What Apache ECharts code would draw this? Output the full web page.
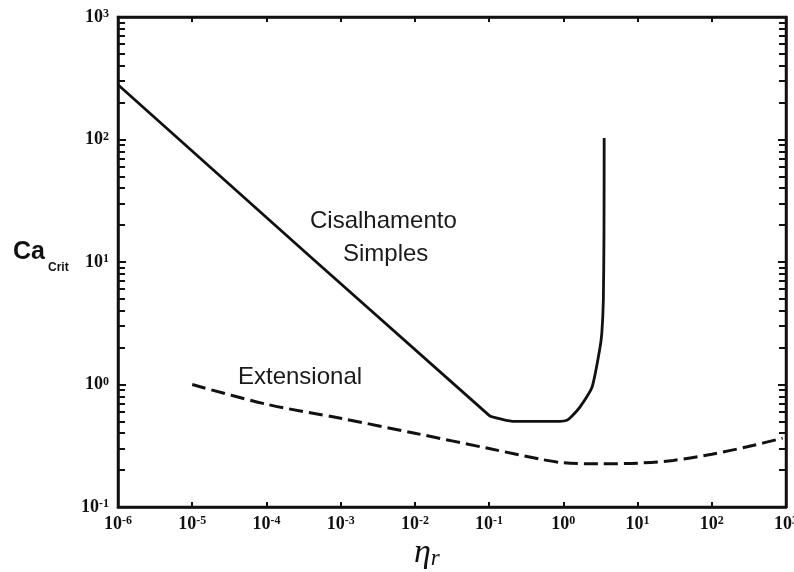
<!DOCTYPE html>
<html>
<head>
<meta charset="utf-8">
<script src="https://cdn.jsdelivr.net/npm/echarts@6/dist/echarts.min.js"></script>
<style>
html, body { margin: 0; padding: 0; background: #fff; }
#main { width: 794px; height: 572px; }
</style>
</head>
<body>
<div id="main"></div>
<script>
// Cisalhamento simples (solid)
var shearX = [1e-6, 0.1, 0.15, 0.22, 0.9, 1.12, 1.3, 1.69, 2.44, 3.08, 3.3, 3.46, 3.53, 3.55];
var shearY = [280, 0.56, 0.52, 0.50, 0.50, 0.51, 0.55, 0.66, 0.955, 1.91, 2.63, 4.9, 17.5, 103];
// Extensional (dashed)
var extX = [1e-5, 1e-4, 1e-3, 1e-2, 1e-1, 0.5, 1, 3, 10, 30, 100, 300, 900];
var extY = [1.0, 0.69, 0.53, 0.40, 0.30, 0.245, 0.23, 0.225, 0.228, 0.24, 0.27, 0.31, 0.365];
var xRange = [1e-6, 1e3];
var yRange = [1e-1, 1e3];

function pairs(xs, ys) {
    return xs.map(function (x, i) { return [x, ys[i]]; });
}

function powLabel(v) {
    var e = Math.round(Math.log10(v));
    return '{b|10}{s|' + e + '}';
}

var ink = '#111';
var labelRich = {
    b: { fontFamily: 'Liberation Serif', fontWeight: 'bold', fontSize: 18, color: ink },
    s: { fontFamily: 'Liberation Serif', fontWeight: 'bold', fontSize: 12, color: ink, verticalAlign: 'top' }
};

function logAxis(range, extra) {
    var ax = {
        type: 'log',
        logBase: 10,
        min: range[0],
        max: range[1],
        interval: 1,
        axisLine: { show: true, onZero: false, lineStyle: { color: ink, width: 2.5 } },
        splitLine: { show: false },
        axisTick: { show: true, inside: true, length: 5, lineStyle: { color: ink, width: 2 } },
        axisLabel: { show: false }
    };
    for (var k in extra) ax[k] = extra[k];
    return ax;
}

var chart = echarts.init(document.getElementById('main'));
chart.setOption({
    animation: false,
    grid: {
        left: 118, right: 8, top: 17, bottom: 65,
        outerBoundsMode: 'none',
        show: true, borderColor: ink, borderWidth: 2.5
    },
    xAxis: [
        logAxis(xRange, {
            position: 'bottom',
            axisLabel: { show: true, formatter: powLabel, rich: labelRich, margin: 8 }
        }),
        logAxis(xRange, { position: 'top' })
    ],
    yAxis: [
        logAxis(yRange, {
            position: 'left',
            axisTick: { show: true, inside: true, length: 8, lineStyle: { color: ink, width: 2 } },
            minorTick: { show: true, splitNumber: 9, length: 7, lineStyle: { color: ink, width: 2 } },
            axisLabel: { show: true, formatter: powLabel, rich: labelRich, margin: 9 }
        }),
        logAxis(yRange, {
            position: 'right',
            axisTick: { show: true, inside: true, length: 8, lineStyle: { color: ink, width: 2 } },
            minorTick: { show: true, splitNumber: 9, length: 7, lineStyle: { color: ink, width: 2 } }
        })
    ],
    series: [
        {
            name: 'Cisalhamento Simples',
            type: 'line',
            data: pairs(shearX, shearY),
            showSymbol: false,
            smooth: 0.2,
            lineStyle: { color: ink, width: 2.8 }
        },
        {
            name: 'Extensional',
            type: 'line',
            data: pairs(extX, extY),
            showSymbol: false,
            smooth: 0.3,
            lineStyle: { color: ink, width: 3, type: [14, 6] }
        }
    ],
    graphic: [
        { type: 'text', left: 310, top: 209, style: { text: 'Cisalhamento', font: '24px "Liberation Sans"', fill: '#1a1a1a' } },
        { type: 'text', left: 343, top: 242, style: { text: 'Simples', font: '24px "Liberation Sans"', fill: '#1a1a1a' } },
        { type: 'text', left: 238, top: 365, style: { text: 'Extensional', font: '24px "Liberation Sans"', fill: '#1a1a1a' } },
        { type: 'text', left: 13, top: 240, style: { text: 'Ca', font: 'bold 25px "Liberation Sans"', fill: ink } },
        { type: 'text', left: 48, top: 262, style: { text: 'Crit', font: 'bold 12px "Liberation Sans"', fill: ink } },
        {
            type: 'text', left: 414, top: 536,
            style: {
                text: '{a|η}{b|r}',
                rich: {
                    a: { fontFamily: 'Liberation Serif', fontStyle: 'italic', fontSize: 34, fill: ink },
                    b: { fontFamily: 'Liberation Serif', fontStyle: 'italic', fontSize: 23, fill: ink, verticalAlign: 'bottom' }
                }
            }
        }
    ]
});
</script>
</body>
</html>
